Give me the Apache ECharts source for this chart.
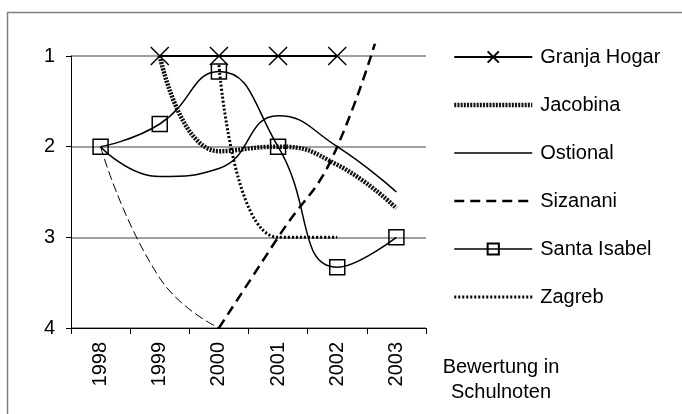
<!DOCTYPE html>
<html>
<head>
<meta charset="utf-8">
<script src="https://cdn.jsdelivr.net/npm/echarts@6/dist/echarts.min.js"></script>
<style>html,body{margin:0;padding:0;background:#fff}#c{width:682px;height:414px}</style>
</head>
<body>
<div id="c"></div>
<script>
var years = ['1998', '1999', '2000', '2001', '2002', '2003'];
var yTicks = [1, 2, 3, 4];
var granjaHogar = [null, 1, 1, 1, 1, null];
var jacobina = [null, 1, 2.05, 2, 2.2, 2.68];
var ostional = [2, 2.33, 2.24, 1.66, 2, 2.5];
var sizananiA = [2, 3.45, 4, null, null, null];
var sizananiB = [null, null, 4, 3, 2, 0];
var santaIsabel = [2, 1.75, 1.17, 2, 3.33, 3];
var zagreb = [null, null, 1.1, 3, 3, null];
var axisTitle = 'Bewertung in\nSchulnoten';

var FONT = '"Liberation Sans", Arial, sans-serif';
var chart = echarts.init(document.getElementById('c'), null, {renderer: 'canvas'});
var G = {left: 71, right: 256, bottom: 86};
var topA = 56, topB = 45;
var unit = (414 - G.bottom - topA) / (yTicks[yTicks.length - 1] - yTicks[0]);
var minB = yTicks[0] - (topA - topB) / unit;
var xSym = 'path://M0,0L10,10M10,0L0,10';

var LS = {
  granja: {width: 2, color: '#000'},
  jacobina: {width: 4.5, type: [2, 1.2], color: '#111'},
  ostional: {width: 1.5, color: '#000'},
  sizB: {width: 2.5, type: [10, 6], color: '#000'},
  sizA: {width: 1, type: [9, 4], color: '#000'},
  santa: {width: 1.5, color: '#000'},
  zagreb: {width: 3, type: [2, 2], color: '#000'}
};

function base(name, data, ls, extra) {
  var s = {
    name: name, type: 'line', data: data, xAxisIndex: 1, yAxisIndex: 1,
    smooth: 0.5, connectNulls: false, showSymbol: false, symbol: 'circle', symbolSize: 1,
    lineStyle: ls, clip: true, animation: false,
    itemStyle: {color: '#000', opacity: 0}
  };
  return Object.assign(s, extra || {});
}

var option = {
  backgroundColor: '#fff',
  animation: false,
  textStyle: {fontFamily: FONT},
  graphic: [
    {type: 'rect', shape: {x: 7.5, y: 12.5, width: 700, height: 420}, style: {fill: 'none', stroke: '#7f7f7f', lineWidth: 1.5}, z: 0},
    {type: 'text', x: 501, y: 355, style: {text: axisTitle, textAlign: 'center', fontSize: 20, lineHeight: 25, fontFamily: FONT, fill: '#000'}}
  ],
  legend: {
    orient: 'vertical', left: 452, top: 46, padding: 0,
    itemWidth: 78, itemHeight: 14, itemGap: 26,
    textStyle: {fontSize: 20, lineHeight: 22, fontFamily: FONT, color: '#000', padding: [0, 0, 0, 3]},
    data: [
      {name: 'Granja Hogar', lineStyle: LS.granja},
      {name: 'Jacobina', lineStyle: LS.jacobina},
      {name: 'Ostional', lineStyle: LS.ostional},
      {name: 'Sizanani', lineStyle: LS.sizB},
      {name: 'Santa Isabel', lineStyle: LS.santa},
      {name: 'Zagreb', lineStyle: LS.zagreb}
    ],
    selectedMode: false
  },
  grid: [
    Object.assign({top: topA}, G),
    Object.assign({top: topB}, G)
  ],
  xAxis: [
    {type: 'category', data: years, gridIndex: 0, boundaryGap: true,
     axisLine: {lineStyle: {color: '#000', width: 1}},
     axisTick: {show: true, length: 6, lineStyle: {color: '#000'}},
     axisLabel: {rotate: 90, margin: 14, fontSize: 20, color: '#000', fontFamily: FONT}},
    {type: 'category', data: years, gridIndex: 1, boundaryGap: true, show: false}
  ],
  yAxis: [
    {type: 'value', gridIndex: 0, inverse: true, min: yTicks[0], max: yTicks[yTicks.length - 1], interval: 1,
     axisLine: {show: true, lineStyle: {color: '#000', width: 1}},
     axisTick: {show: true, length: 5, lineStyle: {color: '#000'}},
     axisLabel: {margin: 16, fontSize: 20, color: '#000', fontFamily: FONT},
     splitLine: {show: true, lineStyle: {color: '#808080', width: 1.5}}},
    {type: 'value', gridIndex: 1, inverse: true, min: minB, max: yTicks[yTicks.length - 1], show: false, splitLine: {show: false}}
  ],
  series: [
    base('Granja Hogar', granjaHogar, LS.granja, {
      showSymbol: true, symbol: xSym, symbolSize: 18,
      itemStyle: {color: '#000', borderColor: '#000', borderWidth: 1.5}
    }),
    base('Jacobina', jacobina, LS.jacobina),
    base('Ostional', ostional, LS.ostional),
    base('Sizanani', sizananiB, LS.sizB),
    base('Sizanani', sizananiA, LS.sizA),
    base('Santa Isabel', santaIsabel, LS.santa, {
      showSymbol: true, symbol: 'rect', symbolSize: 15,
      itemStyle: {color: 'rgba(255,255,255,0)', borderColor: '#000', borderWidth: 1.5}
    }),
    base('Zagreb', zagreb, LS.zagreb)
  ]
};
chart.setOption(option);
</script>
</body>
</html>
